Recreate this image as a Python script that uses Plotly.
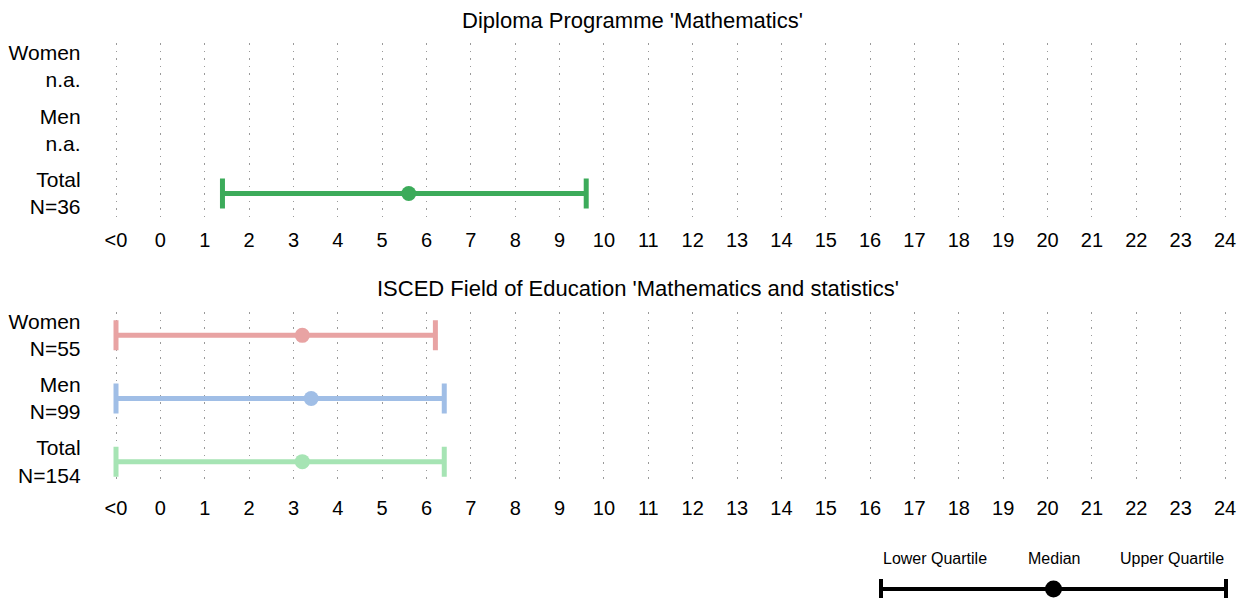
import plotly.graph_objects as go

# ---------------- data ----------------
groups = ["Women", "Men", "Total"]
row_pos = [2, 1, 0]  # top-to-bottom order

dp_title = "Diploma Programme 'Mathematics'"
dp_n = ["n.a.", "n.a.", "N=36"]
dp_lower = [None, None, 1.4]
dp_median = [None, None, 5.6]
dp_upper = [None, None, 9.6]
dp_colors = ["#3cab5a", "#3cab5a", "#3cab5a"]

isced_title = "ISCED Field of Education 'Mathematics and statistics'"
isced_n = ["N=55", "N=99", "N=154"]
isced_lower = [-1, -1, -1]      # -1 is the "<0" position
isced_median = [3.2, 3.4, 3.2]
isced_upper = [6.2, 6.4, 6.4]
isced_colors = ["#e8a3a3", "#a0bee6", "#a6e4b4"]

tick_vals = list(range(-1, 25))
tick_text = ["<0"] + [str(v) for v in range(0, 25)]

legend_labels = ["Lower Quartile", "Median", "Upper Quartile"]
legend_vals = [0, 1, 2]

FONT = "Liberation Sans, Arial, Helvetica, sans-serif"
W, H = 1248, 598
OFF = 8  # page body margin offset of the figure


def px(xp):
    return (xp - OFF) / W


def py(yp):
    return 1 - (yp - OFF) / H


fig = go.Figure()


def add_panel(lower, median, upper, colors, xa, ya):
    for i, g in enumerate(groups):
        if median[i] is None:
            continue
        fig.add_trace(go.Scatter(
            x=[median[i]], y=[row_pos[i]], mode="markers",
            marker=dict(size=15, color=colors[i]),
            error_x=dict(type="data", symmetric=False,
                         array=[upper[i] - median[i]],
                         arrayminus=[median[i] - lower[i]],
                         color=colors[i], thickness=5, width=15),
            xaxis=xa, yaxis=ya, showlegend=False, name=g,
            hoverinfo="skip"))


add_panel(dp_lower, dp_median, dp_upper, dp_colors, "x", "y")
add_panel(isced_lower, isced_median, isced_upper, isced_colors, "x2", "y2")

# legend key
fig.add_trace(go.Scatter(
    x=[legend_vals[1]], y=[0], mode="markers",
    marker=dict(size=17, color="black"),
    error_x=dict(type="data", symmetric=False,
                 array=[legend_vals[2] - legend_vals[1]],
                 arrayminus=[legend_vals[1] - legend_vals[0]],
                 color="black", thickness=4, width=10),
    xaxis="x3", yaxis="y3", showlegend=False, hoverinfo="skip"))

x0_px, x1_px = 116, 1225  # page pixel positions of "<0" and "24"
ppu = (x1_px - x0_px) / 25.0
rng = [-1.1, 24.1]
dom_x = [px(x0_px - 0.1 * ppu), px(x1_px + 0.1 * ppu)]


def ydom(top_px, bot_px):
    return [py(bot_px), py(top_px)]


xaxis_common = dict(
    range=rng, domain=dom_x, tickmode="array", tickvals=tick_vals,
    ticktext=tick_text, showgrid=True, gridcolor="#9a9a9a", gridwidth=1,
    griddash="1.5px,6px", zeroline=False, showline=False, ticks="",
    tickfont=dict(family=FONT, size=20, color="black"),
    ticklabelstandoff=9, fixedrange=True, automargin=False)

yaxis_common = dict(
    range=[-0.37, 2.37], tickmode="array", tickvals=row_pos,
    showgrid=False, zeroline=False, showline=False, ticks="",
    tickfont=dict(family=FONT, size=21, color="black"),
    ticklabelstandoff=30, fixedrange=True, automargin=False)

leg_ppu = (1226 - 881) / 2.0
fig.update_layout(
    width=W, height=H,
    margin=dict(l=0, r=0, t=0, b=0, autoexpand=False),
    paper_bgcolor="white", plot_bgcolor="white",
    showlegend=False,
    xaxis=dict(**xaxis_common, anchor="y"),
    yaxis=dict(**yaxis_common, domain=ydom(43, 217), anchor="x",
               ticktext=[f"{g}<br>{n}" for g, n in zip(groups, dp_n)]),
    xaxis2=dict(**xaxis_common, anchor="y2"),
    yaxis2=dict(**yaxis_common, domain=ydom(312, 485), anchor="x2",
                ticktext=[f"{g}<br>{n}" for g, n in zip(groups, isced_n)]),
    xaxis3=dict(domain=[px(881 - 0.03 * leg_ppu), px(1226 + 0.03 * leg_ppu)],
                range=[-0.03, 2.03], visible=False, anchor="y3",
                fixedrange=True, automargin=False),
    yaxis3=dict(domain=ydom(575, 603), range=[-1, 1], visible=False,
                anchor="x3", fixedrange=True, automargin=False),
)

annotations = [
    dict(text=dp_title, x=px(632), y=py(21), xref="paper", yref="paper",
         showarrow=False, xanchor="center", yanchor="middle",
         font=dict(family=FONT, size=22, color="black")),
    dict(text=isced_title, x=px(638), y=py(288), xref="paper", yref="paper",
         showarrow=False, xanchor="center", yanchor="middle",
         font=dict(family=FONT, size=22, color="black")),
]
anchors = ["left", "center", "right"]
for lab, v, a in zip(legend_labels, legend_vals, anchors):
    annotations.append(dict(
        text=lab, x=v, y=py(558), xref="x3", yref="paper",
        showarrow=False, xanchor=a, yanchor="middle",
        font=dict(family=FONT, size=16, color="black")))
fig.update_layout(annotations=annotations)

fig.write_html("out.html")
